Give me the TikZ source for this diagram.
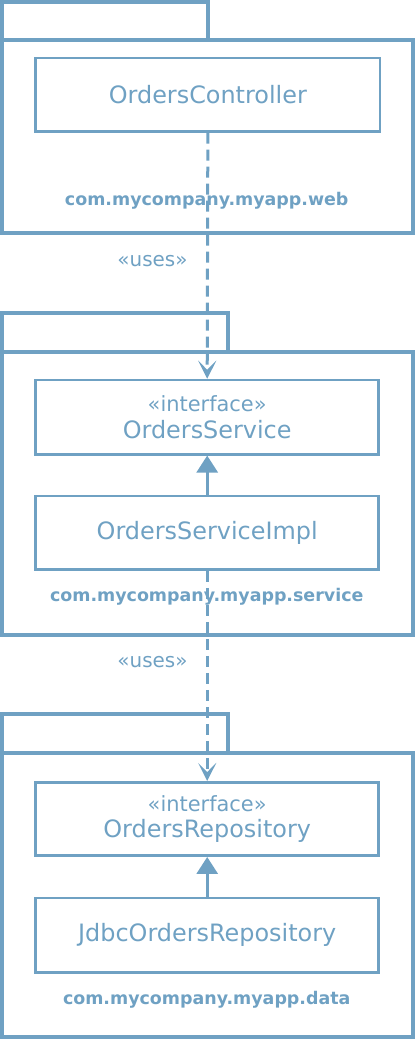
\documentclass[tikz,border=0pt]{standalone}
\usepackage{fontspec}
\setmainfont{DejaVu Sans}
\usetikzlibrary{arrows.meta}
\definecolor{umlblue}{RGB}{111,161,195}
\tikzset{
    every node/.style={draw=umlblue, text=umlblue, inner sep=0pt}
}
\tikzset{
    pkg/.style={line width=4bp},
    cls/.style={line width=2.5bp, align=center, font=\fontsize{24}{27}\selectfont},
    pkglabel/.style={draw=none, font=\bfseries\fontsize{17.5}{20}\selectfont},
    stereo/.style={draw=none, font=\fontsize{20}{23}\selectfont}
}
\tikzset{
    every edge/.append style={umlblue, line width=3bp},
    uses/.style={dash pattern=on 11bp off 6bp,
        -{Stealth[length=18bp, width=18bp, inset=9bp]}},
    realizes/.style={-{Triangle[length=17bp, width=21bp]}}
}
\newcommand{\ifacename}[1]{{\fontsize{21}{22}\selectfont «interface»}\\[0bp]#1}

\begin{document}
\begin{tikzpicture}[x=1bp, y=-1bp]
  \useasboundingbox (0, 0) rectangle (416, 1040);

  \node (webtab) [pkg, minimum width=205.8bp, minimum height=37.7bp] at (104.6, 21.15) {};
  \node (web) [pkg, minimum width=411.3bp, minimum height=193bp] at (207.35, 136.5) {};
  \node (servicetab) [pkg, minimum width=225.8bp, minimum height=39bp] at (114.6, 332.2) {};
  \node (service) [pkg, minimum width=411.3bp, minimum height=283.3bp] at (207.35, 493.35) {};
  \node (datatab) [pkg, minimum width=225.8bp, minimum height=39bp] at (114.6, 733.8) {};
  \node (data) [pkg, minimum width=411.3bp, minimum height=283.4bp] at (207.35, 895) {};

  \node (ctrl) [cls, minimum width=344.3bp, minimum height=73.3bp] at (207.85, 94.65) {OrdersController};
  \node (svc) [cls, minimum width=343bp, minimum height=74.3bp] at (207.2, 417.15) {\ifacename{OrdersService}};
  \node (svcimpl) [cls, minimum width=343bp, minimum height=73.7bp] at (207.2, 532.85) {OrdersServiceImpl};
  \node (repo) [cls, minimum width=343bp, minimum height=73.4bp] at (207.2, 819) {\ifacename{OrdersRepository}};
  \node (jdbc) [cls, minimum width=343bp, minimum height=74.7bp] at (207.2, 935.35) {JdbcOrdersRepository};

  \node (weblabel) [pkglabel] at (206.7, 201) {com.mycompany.myapp.web};
  \node (servicelabel) [pkglabel] at (206.7, 596.7) {com.mycompany.myapp.service};
  \node (datalabel) [pkglabel] at (206.7, 999.3) {com.mycompany.myapp.data};
  \node (uses1) [stereo] at (152.5, 261) {«uses»};
  \node (uses2) [stereo] at (152.5, 662.5) {«uses»};

  \draw (ctrl.south) edge [uses] (svc.north);
  \draw (svcimpl.south) edge [uses] (repo.north);
  \draw (svcimpl) edge [realizes] (svc);
  \draw (jdbc) edge [realizes] (repo);
\end{tikzpicture}
\end{document}
